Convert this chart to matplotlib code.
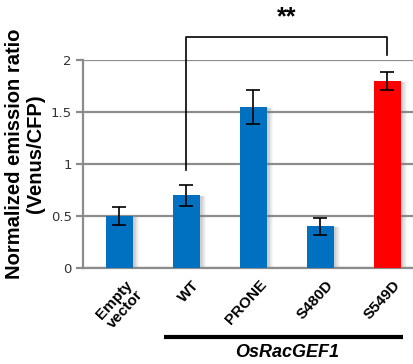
import matplotlib
matplotlib.use("Agg")
import matplotlib.pyplot as plt
import numpy as np

# data
labels = ["Empty\nvector", "WT", "PRONE", "S480D", "S549D"]
values = [0.50, 0.70, 1.55, 0.40, 1.80]
errors = [0.085, 0.10, 0.165, 0.085, 0.085]
colors = ["#0070c0", "#0070c0", "#0070c0", "#0070c0", "#ff0000"]
yticks = [0, 0.5, 1, 1.5, 2]
yticklabels = ["0", "0.5", "1", "1.5", "2"]

fig = plt.figure(figsize=(4.14, 3.64), dpi=100)
ax = fig.add_axes([0.2005, 0.2637, 0.7995, 0.5714])

x = np.arange(len(values))
w = 0.4

# soft drop shadows to the right of each bar
for k in range(6):
    ax.bar(x + 0.03 + k * 0.012, values, w, bottom=-0.01, color="gray",
           alpha=0.07, zorder=2, linewidth=0)

ax.bar(x, values, w, color=colors, zorder=3, linewidth=0)
ax.errorbar(x, values, yerr=errors, fmt="none", ecolor="black",
            elinewidth=1.2, capsize=5, capthick=1.2, zorder=4)

ax.set_xlim(-0.545, 4.4)
ax.set_ylim(0, 2)
ax.set_yticks(yticks)
ax.set_yticklabels(yticklabels, fontsize=9.5, color="#333333")
ax.yaxis.grid(True, color="#8c8c8c", linewidth=1.6, zorder=0)
ax.set_axisbelow(True)
ax.tick_params(axis="y", length=5, width=1.6, color="#8c8c8c", pad=3)
ax.tick_params(axis="x", length=0, pad=7)
for s in ["top", "right"]:
    ax.spines[s].set_visible(False)
for s in ["left", "bottom"]:
    ax.spines[s].set_color("#8c8c8c")
    ax.spines[s].set_linewidth(1.6)

ax.set_xticks(x + 0.08)
ax.set_xticklabels(labels, rotation=48, ha="right", va="top",
                   rotation_mode="anchor", fontsize=11, fontweight="bold",
                   family="Liberation Sans", multialignment="center",
                   linespacing=1.0)
ax.set_ylabel("Normalized emission ratio\n(Venus/CFP)", fontsize=14.5,
              fontweight="bold", family="Liberation Sans",
              linespacing=1.15)
ax.yaxis.set_label_coords(-0.115, 0.55)

# significance bracket between WT and S549D
ax.plot([1, 1, 4, 4], [0.94, 2.22, 2.22, 2.05], color="black",
        linewidth=1.2, clip_on=False)
ax.text(2.5, 2.41, "**", ha="center", va="center", fontsize=18,
        fontweight="bold", family="Liberation Sans")

# group line with OsRacGEF1 label
ax.plot([0.66, 4.23], [-0.66, -0.66], color="black", linewidth=3,
        clip_on=False, solid_capstyle="butt")
ax.text(2.5, -0.73, "OsRacGEF1", ha="center", va="top", fontsize=13,
        fontweight="bold", style="italic", family="Liberation Sans")

fig.savefig("out.png", dpi=100)
